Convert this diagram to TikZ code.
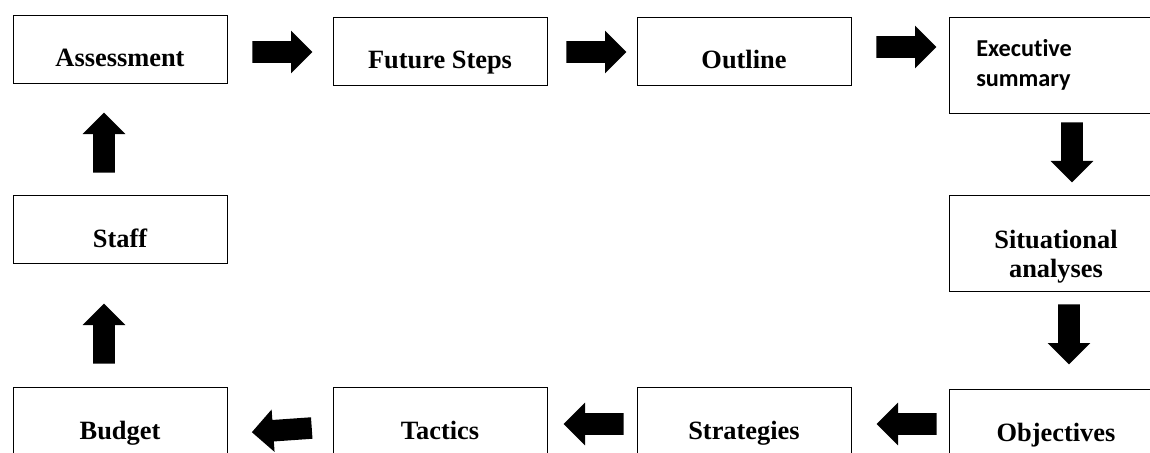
\documentclass[tikz,border=0pt]{standalone}
\usepackage{fontspec}
\setmainfont{Liberation Serif}
\newfontfamily\calfont[Ligatures=NoCommon]{Carlito}
\usetikzlibrary{shapes.arrows,calc}

\tikzset{
  stepbox/.style={draw=black, line width=0.8pt, rectangle, inner sep=0pt,
    anchor=north west, minimum width=160.5pt, minimum height=51pt},
  tallbox/.style={stepbox, minimum height=72pt},
  lbl/.style={anchor=base, inner sep=0pt, font=\fontsize{19.8pt}{22pt}\selectfont\bfseries},
  sumlbl/.style={anchor=base west, inner sep=0pt, font=\calfont\fontsize{18.2pt}{22pt}\selectfont\bfseries},
  blockarrow/.style={single arrow, fill=black, draw=none, inner xsep=0pt,
    inner ysep=7.875pt, single arrow head extend=7.875pt,
    single arrow head indent=0pt, single arrow tip angle=90,
    minimum height=45pt, minimum width=0pt, anchor=tail},
}

\begin{document}
\begin{tikzpicture}[x=0.75pt, y=-0.75pt]
  \useasboundingbox (0,0) rectangle (1150,453);
  \clip (0,0) rectangle (1150,453);

  % boxes of the planning cycle
  \node[stepbox] (assess) at (13,15) {};
  \node[stepbox] (future) at (333,17) {};
  \node[stepbox] (outline) at (637,17) {};
  \node[tallbox] (exec) at (949,17) {};
  \node[tallbox] (situ) at (949,195) {};
  \node[stepbox] (objec) at (949,389) {};
  \node[stepbox] (strat) at (637,387) {};
  \node[stepbox] (tact) at (333,387) {};
  \node[stepbox] (budget) at (13,387) {};
  \node[stepbox] (staff) at (13,195) {};

  % box labels
  \node[lbl] (assessT) at (120,67) {Assessment};
  \node[lbl] (futureT) at (440,69) {Future Steps};
  \node[lbl] (outlineT) at (744,69) {Outline};
  \node[sumlbl] (execT1) at (976,57) {Executive};
  \node[sumlbl] (execT2) at (976,87) {summary};
  \node[lbl] (situT1) at (1056,248) {Situational};
  \node[lbl] (situT2) at (1056,277) {analyses};
  \node[lbl] (objecT) at (1056,441) {Objectives};
  \node[lbl] (stratT) at (744,439) {Strategies};
  \node[lbl] (tactT) at (440,439) {Tactics};
  \node[lbl] (budgetT) at (120,439) {Budget};
  \node[lbl] (staffT) at (120,247) {Staff};

  % block arrows between the steps, placed by their tails
  \node[blockarrow] (a1) at (252,52) {};
  \node[blockarrow] (a2) at (566,52) {};
  \node[blockarrow] (a3) at (876,47) {};
  \node[blockarrow, rotate=-90] (d1) at (1072,122) {};
  \node[blockarrow, rotate=-90] (d2) at (1069,304) {};
  \node[blockarrow, rotate=180] (l1) at (937,424) {};
  \node[blockarrow, rotate=180] (l2) at (624,424) {};
  \node[blockarrow, rotate=184] (l3) at (312,428) {};
  \node[blockarrow, rotate=90] (u1) at (104,364) {};
  \node[blockarrow, rotate=90] (u2) at (104,173) {};
\end{tikzpicture}
\end{document}
